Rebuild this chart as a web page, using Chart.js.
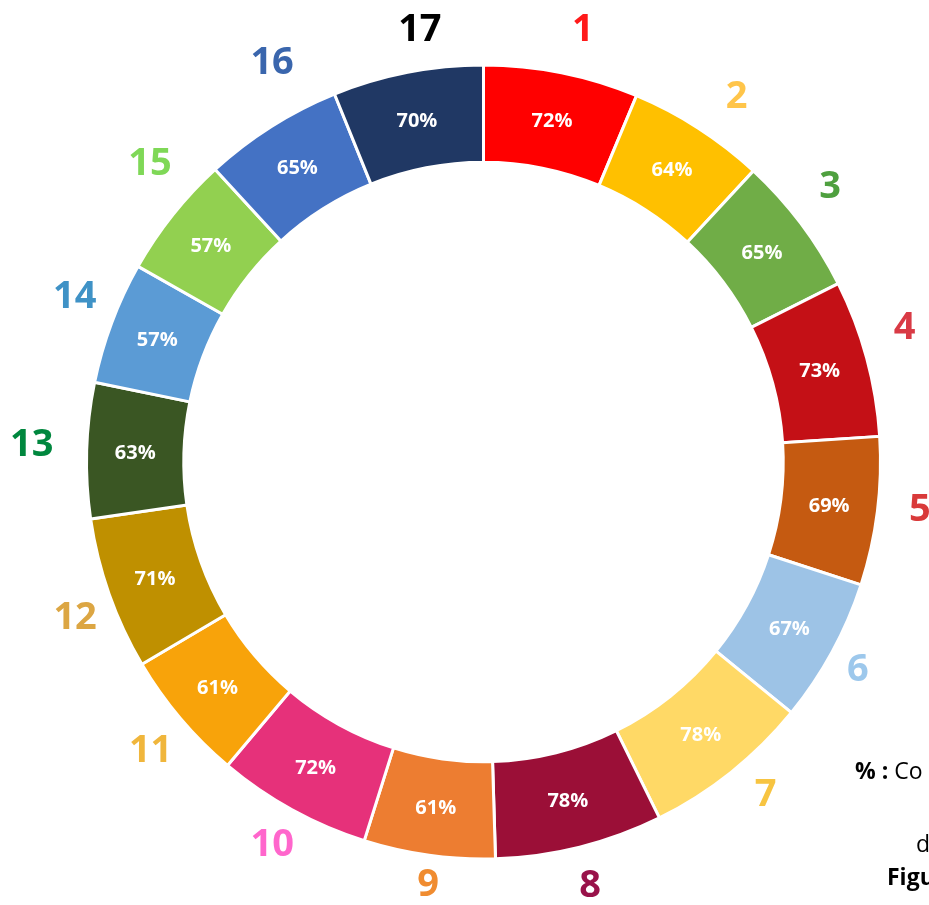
<!DOCTYPE html>
<html>
<head>
<meta charset="utf-8">
<script src="https://cdn.jsdelivr.net/npm/chart.js@4"></script>
<style>
  html, body { margin: 0; padding: 0; background: #fff; overflow: hidden; }
  #wrap { position: relative; width: 929px; height: 905px; }
  .note { position: absolute; font-family: 'Open Sans', sans-serif; font-size: 23px; color: #000; white-space: nowrap; line-height: 1; }
</style>
</head>
<body>
<div id="wrap">
  <canvas id="odsChart" width="929" height="905"></canvas>
  <div class="note" style="left:855px; top:759px;"><b>% :</b> Co</div>
  <div class="note" style="left:916px; top:832px;">d</div>
  <div class="note" style="left:887px; top:865px;"><b>Figu</b></div>
</div>
<script>
// Dados
const goals = ['1', '2', '3', '4', '5', '6', '7', '8', '9', '10', '11', '12', '13', '14', '15', '16', '17'];
const scores = [72, 64, 65, 73, 69, 67, 78, 78, 61, 72, 61, 71, 63, 57, 57, 65, 70];

// Cores dos segmentos e dos números
const sliceColors = [
  '#FF0000', '#FFC000', '#70AD47', '#C41016', '#C55A11', '#9DC3E6', '#FFD966', '#9B0F37', '#ED7D31',
  '#E6317A', '#F8A30A', '#BF9000', '#3A5623', '#5B9BD5', '#92D050', '#4472C4', '#203864'
];
const numberColors = [
  '#FF1A1A', '#FFC54A', '#4FA03F', '#D93A45', '#D93A3A', '#9DC8EC', '#F7C441', '#99124A', '#F08C30',
  '#FF66CC', '#F0B63C', '#DCA643', '#00873E', '#3F92C6', '#7FD857', '#3A66AD', '#000000'
];

// Deslocamento angular (graus) e raio dos números externos
const numberShift = [1.6, 1.9, -1.6, -2.5, -1.0, 0.4, -1.75, -0.15, -0.4, 0.1, -0.6, -1.4, 0.55, 1.5, 3.4, 4.4, 2.65];
const numberRadius = [444, 445, 443, 442, 439, 428, 436, 436, 426, 437, 440, 437, 452, 441, 448, 452, 437];

// Plugin para desenhar os rótulos
const labelsPlugin = {
  id: 'odsLabels',
  afterDatasetsDraw(chart) {
    const ctx = chart.ctx;
    const meta = chart.getDatasetMeta(0);
    ctx.save();
    ctx.textAlign = 'center';
    ctx.textBaseline = 'middle';
    meta.data.forEach((arc, i) => {
      const p = arc.getCenterPoint();
      ctx.fillStyle = '#ffffff';
      ctx.font = 'bold 20px "Open Sans", sans-serif';
      ctx.fillText(scores[i] + '%', p.x, p.y + 1);

      const mid = (arc.startAngle + arc.endAngle) / 2 + numberShift[i] * Math.PI / 180;
      const x = arc.x + Math.cos(mid) * numberRadius[i];
      const y = arc.y + Math.sin(mid) * numberRadius[i];
      ctx.fillStyle = numberColors[i];
      ctx.font = 'bold 38px "Open Sans", sans-serif';
      ctx.fillText(goals[i], x, y + 1);
    });
    ctx.restore();
  }
};

const ctx = document.getElementById('odsChart').getContext('2d');
new Chart(ctx, {
  type: 'doughnut',
  data: {
    labels: goals,
    datasets: [{
      data: scores,
      backgroundColor: sliceColors,
      borderColor: '#ffffff',
      borderWidth: 3
    }]
  },
  options: {
    responsive: false,
    animation: false,
    cutout: '75.5%',
    layout: { padding: { left: 85, top: 63, right: 47, bottom: 44 } },
    plugins: {
      legend: { display: false },
      tooltip: { enabled: false }
    }
  },
  plugins: [labelsPlugin]
});
</script>
</body>
</html>
